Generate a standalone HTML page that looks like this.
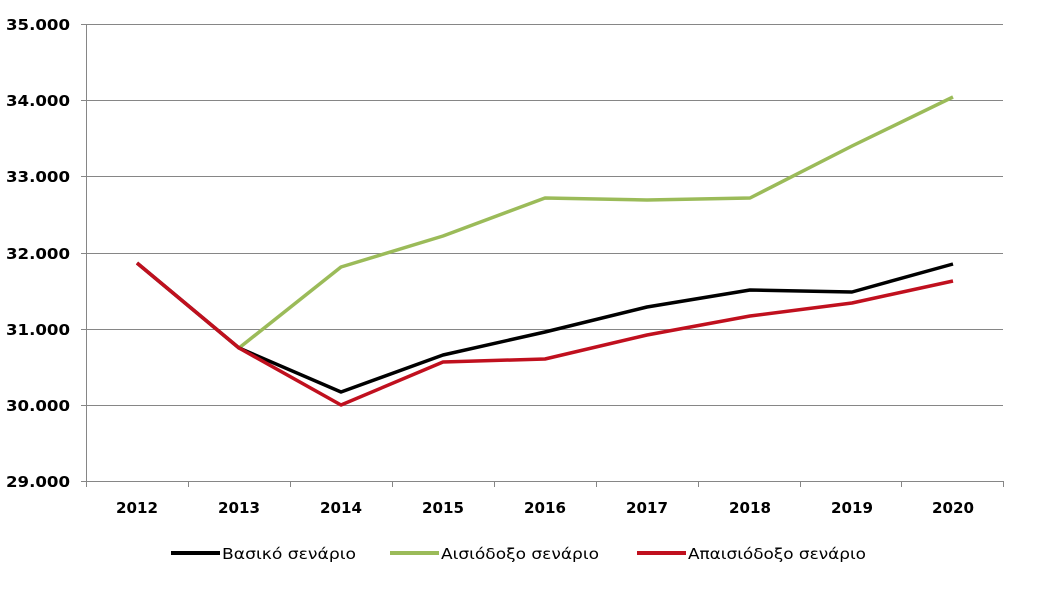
<!DOCTYPE html><html><head><style>body{margin:0;background:#fff}svg text{font-family:"DejaVu Sans","Liberation Sans",sans-serif;font-size:15px;fill:#000}</style></head><body>
<svg width="1044" height="586" xmlns="http://www.w3.org/2000/svg">
<g stroke="#868686" stroke-width="1">
<line x1="81" y1="24.5" x2="1003" y2="24.5"/><line x1="81" y1="100.5" x2="1003" y2="100.5"/><line x1="81" y1="176.5" x2="1003" y2="176.5"/><line x1="81" y1="253.5" x2="1003" y2="253.5"/><line x1="81" y1="329.5" x2="1003" y2="329.5"/><line x1="81" y1="405.5" x2="1003" y2="405.5"/><line x1="81" y1="481.5" x2="1003" y2="481.5"/>
<line x1="86.5" y1="24" x2="86.5" y2="487"/>
<line x1="188.5" y1="481" x2="188.5" y2="487"/><line x1="290.5" y1="481" x2="290.5" y2="487"/><line x1="392.5" y1="481" x2="392.5" y2="487"/><line x1="494.5" y1="481" x2="494.5" y2="487"/><line x1="596.5" y1="481" x2="596.5" y2="487"/><line x1="698.5" y1="481" x2="698.5" y2="487"/><line x1="800.5" y1="481" x2="800.5" y2="487"/><line x1="901.5" y1="481" x2="901.5" y2="487"/><line x1="1003.5" y1="481" x2="1003.5" y2="487"/>
</g>
<g font-weight="bold">
<text x="6" y="30" textLength="64" lengthAdjust="spacingAndGlyphs">35.000</text><text x="6" y="106" textLength="64" lengthAdjust="spacingAndGlyphs">34.000</text><text x="6" y="182" textLength="64" lengthAdjust="spacingAndGlyphs">33.000</text><text x="6" y="259" textLength="64" lengthAdjust="spacingAndGlyphs">32.000</text><text x="6" y="335" textLength="64" lengthAdjust="spacingAndGlyphs">31.000</text><text x="6" y="411" textLength="64" lengthAdjust="spacingAndGlyphs">30.000</text><text x="6" y="487" textLength="64" lengthAdjust="spacingAndGlyphs">29.000</text>
<text x="116" y="513" textLength="42" lengthAdjust="spacingAndGlyphs">2012</text><text x="218" y="513" textLength="42" lengthAdjust="spacingAndGlyphs">2013</text><text x="320" y="513" textLength="42" lengthAdjust="spacingAndGlyphs">2014</text><text x="422" y="513" textLength="42" lengthAdjust="spacingAndGlyphs">2015</text><text x="524" y="513" textLength="42" lengthAdjust="spacingAndGlyphs">2016</text><text x="626" y="513" textLength="42" lengthAdjust="spacingAndGlyphs">2017</text><text x="729" y="513" textLength="42" lengthAdjust="spacingAndGlyphs">2018</text><text x="831" y="513" textLength="42" lengthAdjust="spacingAndGlyphs">2019</text><text x="932" y="513" textLength="42" lengthAdjust="spacingAndGlyphs">2020</text>
</g>
<g fill="none" stroke-width="3.5" stroke-linejoin="round">
<polyline stroke="#9bbb59" points="239,348 341,267 443,236 545,198 647,200 750,198 852,146 953,97"/>
<polyline stroke="#000" points="137,263 239,348 341,392 443,355 545,332 647,307 750,290 852,292 953,264"/>
<polyline stroke="#c0101e" points="137,263 239,348 341,405 443,362 545,359 647,335 750,316 852,303 953,281"/>
</g>
<g stroke-width="4">
<line x1="171" y1="553" x2="220" y2="553" stroke="#000"/>
<line x1="390" y1="553" x2="439" y2="553" stroke="#9bbb59"/>
<line x1="637" y1="553" x2="686" y2="553" stroke="#c0101e"/>
</g>
<text x="222" y="559" textLength="134" lengthAdjust="spacingAndGlyphs">Βασικό σενάριο</text>
<text x="441" y="559" textLength="158" lengthAdjust="spacingAndGlyphs">Αισιόδοξο σενάριο</text>
<text x="688" y="559" textLength="178" lengthAdjust="spacingAndGlyphs">Απαισιόδοξο σενάριο</text>
</svg></body></html>
